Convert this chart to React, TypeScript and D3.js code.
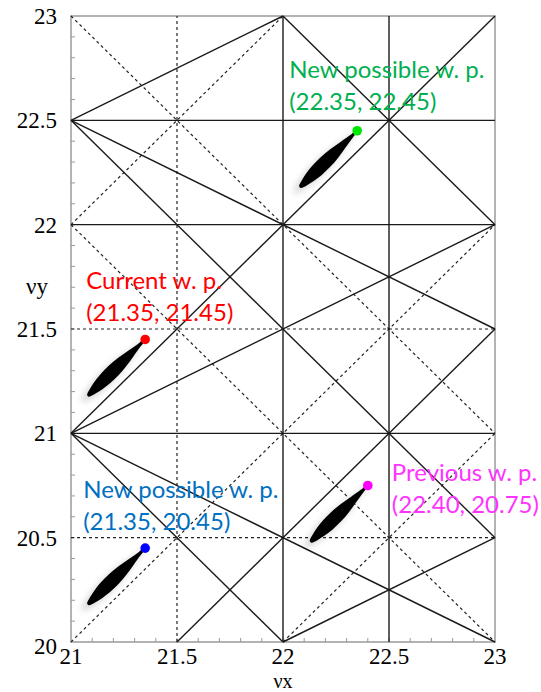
import React, { useRef, useEffect } from 'react';
import * as d3 from 'd3';

// tune-space resonance lines, each as [[nux1, nuy1], [nux2, nuy2]]
const solidLines: [number, number][][] = [
  [[22, 20], [22, 23]],
  [[22.5, 20], [22.5, 23]],
  [[21, 22.5], [23, 22.5]],
  [[21, 22], [23, 22]],
  [[21, 21], [23, 21]],
  [[21, 22.5], [22, 23]],
  [[21, 22.5], [23, 21.5]],
  [[21, 22.5], [23, 20.5]],
  [[22, 23], [23, 22]],
  [[21, 21], [23, 23]],
  [[21, 21], [23, 22]],
  [[21, 21], [23, 20]],
  [[21, 21], [22, 20]],
  [[21.5, 20], [23, 21.5]],
  [[22, 20], [23, 20.5]],
];

const dashedLines: [number, number][][] = [
  [[21.5, 20], [21.5, 23]],
  [[21, 21.5], [23, 21.5]],
  [[21, 20.5], [23, 20.5]],
  [[21, 23], [23, 21]],
  [[21, 22], [22, 23]],
  [[21, 22], [23, 20]],
  [[21, 20], [23, 22]],
  [[22, 20], [23, 21]],
];

const xTicks = [21, 21.5, 22, 22.5, 23];
const yTicks = [20, 20.5, 21, 21.5, 22, 22.5, 23];

// working points
const wpTitles = ['New possible w. p.', 'Current w. p.', 'New possible w. p.', 'Previous w. p.'];
const wpTunes: [number, number][] = [[22.35, 22.45], [21.35, 21.45], [21.35, 20.45], [22.40, 20.75]];
const wpCaptions = ['(22.35, 22.45)', '(21.35, 21.45)', '(21.35, 20.45)', '(22.40, 20.75)'];

// tune footprint: spread from the tip (working point) to the tail, and its profile
const footprintSpread: [number, number] = [-0.27, -0.27];
const footprintProfile: [number, number][] = [
  [0, 0.8], [0.1, 1.8], [0.25, 3.8], [0.4, 5.8], [0.55, 6.8],
  [0.7, 6.6], [0.82, 5.4], [0.92, 3.6], [1, 1.2],
];

const wpStyle = [
  { dot: '#00e600', text: '#00b050', dx: -68, dy: -53 },
  { dot: '#ff0000', text: '#ff0000', dx: -59, dy: -50 },
  { dot: '#0000ff', text: '#0070c0', dx: -62, dy: -50 },
  { dot: '#ff00ff', text: '#ff33ff', dx: 24, dy: -5 },
];

const App = () => {
  const svgRef = useRef<SVGSVGElement>(null);

  useEffect(() => {
    const svg = d3.select(svgRef.current);
    svg.selectAll('*').remove();

    const x = d3.scaleLinear().domain([21, 23]).range([71, 495]);
    const y = d3.scaleLinear().domain([20, 23]).range([642, 16]);

    const defs = svg.append('defs');
    defs.append('filter').attr('id', 'soft')
      .append('feGaussianBlur').attr('stdDeviation', 0.7);
    defs.append('filter').attr('id', 'halo').attr('x', '-50%').attr('y', '-50%')
      .attr('width', '200%').attr('height', '200%')
      .append('feGaussianBlur').attr('stdDeviation', 3);

    // frame
    svg.append('rect')
      .attr('x', x(21)).attr('y', y(23))
      .attr('width', x(23) - x(21)).attr('height', y(20) - y(23))
      .attr('fill', 'none').attr('stroke', '#9a9a9a').attr('stroke-width', 1.5);

    // minor ticks
    const tg = svg.append('g').attr('stroke', '#999').attr('stroke-width', 1);
    d3.range(1, 30).forEach(i => {
      const v = 20 + i * 0.1;
      tg.append('line').attr('x1', x(21)).attr('x2', x(21) + 4).attr('y1', y(v)).attr('y2', y(v));
    });
    d3.range(1, 20).forEach(i => {
      const v = 21 + i * 0.1;
      tg.append('line').attr('x1', x(v)).attr('x2', x(v)).attr('y1', y(20)).attr('y2', y(20) - 4);
    });

    const line = d3.line<[number, number]>().x(d => x(d[0])).y(d => y(d[1]));

    svg.append('g').selectAll('path').data(dashedLines).enter().append('path')
      .attr('d', d => line(d))
      .attr('stroke', '#222').attr('stroke-width', 1.2).attr('stroke-dasharray', '3,3')
      .attr('fill', 'none');

    svg.append('g').selectAll('path').data(solidLines).enter().append('path')
      .attr('d', d => line(d))
      .attr('stroke', '#1a1a1a').attr('stroke-width', 1.4)
      .attr('fill', 'none');

    // footprints
    const outline = d3.line<[number, number]>().curve(d3.curveCatmullRomClosed);
    wpTunes.forEach(([nx, ny]) => {
      const x0 = x(nx), y0 = y(ny);
      const x1 = x(nx + footprintSpread[0]), y1 = y(ny + footprintSpread[1]);
      const L = Math.hypot(x1 - x0, y1 - y0);
      const ux = (x1 - x0) / L, uy = (y1 - y0) / L;
      const px = -uy, py = ux;
      const side1 = footprintProfile.map(([t, w]) => [x0 + ux * t * L + px * w, y0 + uy * t * L + py * w] as [number, number]);
      const side2 = footprintProfile.slice().reverse().map(([t, w]) => [x0 + ux * t * L - px * w, y0 + uy * t * L - py * w] as [number, number]);
      const pts = side1.concat(side2);
      svg.append('path').attr('d', outline(pts)).attr('fill', '#000')
        .attr('opacity', 0.15).attr('filter', 'url(#halo)')
        .attr('transform', `translate(${x0},${y0}) scale(1.1) translate(${-x0},${-y0})`);
      svg.append('path').attr('d', outline(pts)).attr('fill', '#000').attr('filter', 'url(#soft)');
    });

    // working point dots and labels
    wpTunes.forEach(([nx, ny], i) => {
      const s = wpStyle[i];
      svg.append('circle').attr('cx', x(nx)).attr('cy', y(ny)).attr('r', 4.8).attr('fill', s.dot);
      const t = svg.append('text')
        .attr('font-family', 'Lato, "Open Sans", sans-serif')
        .attr('font-size', 24)
        .attr('fill', s.text);
      t.append('tspan').attr('x', x(nx) + s.dx).attr('y', y(ny) + s.dy).text(wpTitles[i]);
      t.append('tspan').attr('x', x(nx) + s.dx).attr('y', y(ny) + s.dy + 32).text(wpCaptions[i]);
    });

    // axes labels
    const serif = '"Liberation Serif", "DejaVu Serif", serif';
    svg.append('g').selectAll('text').data(yTicks).enter().append('text')
      .attr('x', 57).attr('y', d => y(d) + (d === 20 ? 12 : 8))
      .attr('text-anchor', 'end')
      .attr('font-family', serif).attr('font-size', 23).attr('fill', '#000')
      .text(d => String(d));

    svg.append('g').selectAll('text').data(xTicks).enter().append('text')
      .attr('x', d => x(d)).attr('y', 664)
      .attr('text-anchor', 'middle')
      .attr('font-family', serif).attr('font-size', 23).attr('fill', '#000')
      .text(d => String(d));

    svg.append('text').attr('x', x(22)).attr('y', 688).attr('text-anchor', 'middle')
      .attr('font-family', serif).attr('font-size', 20).text('\u03bdx');
    svg.append('text').attr('x', 37).attr('y', 294).attr('text-anchor', 'middle')
      .attr('font-family', serif).attr('font-size', 23).text('\u03bdy');
  }, []);

  return (
    <div style={{ position: 'absolute', left: 0, top: 0 }}>
      <svg ref={svgRef} width="541" height="692" style={{ display: 'block', background: '#fff' }}></svg>
    </div>
  );
};

export default App;
